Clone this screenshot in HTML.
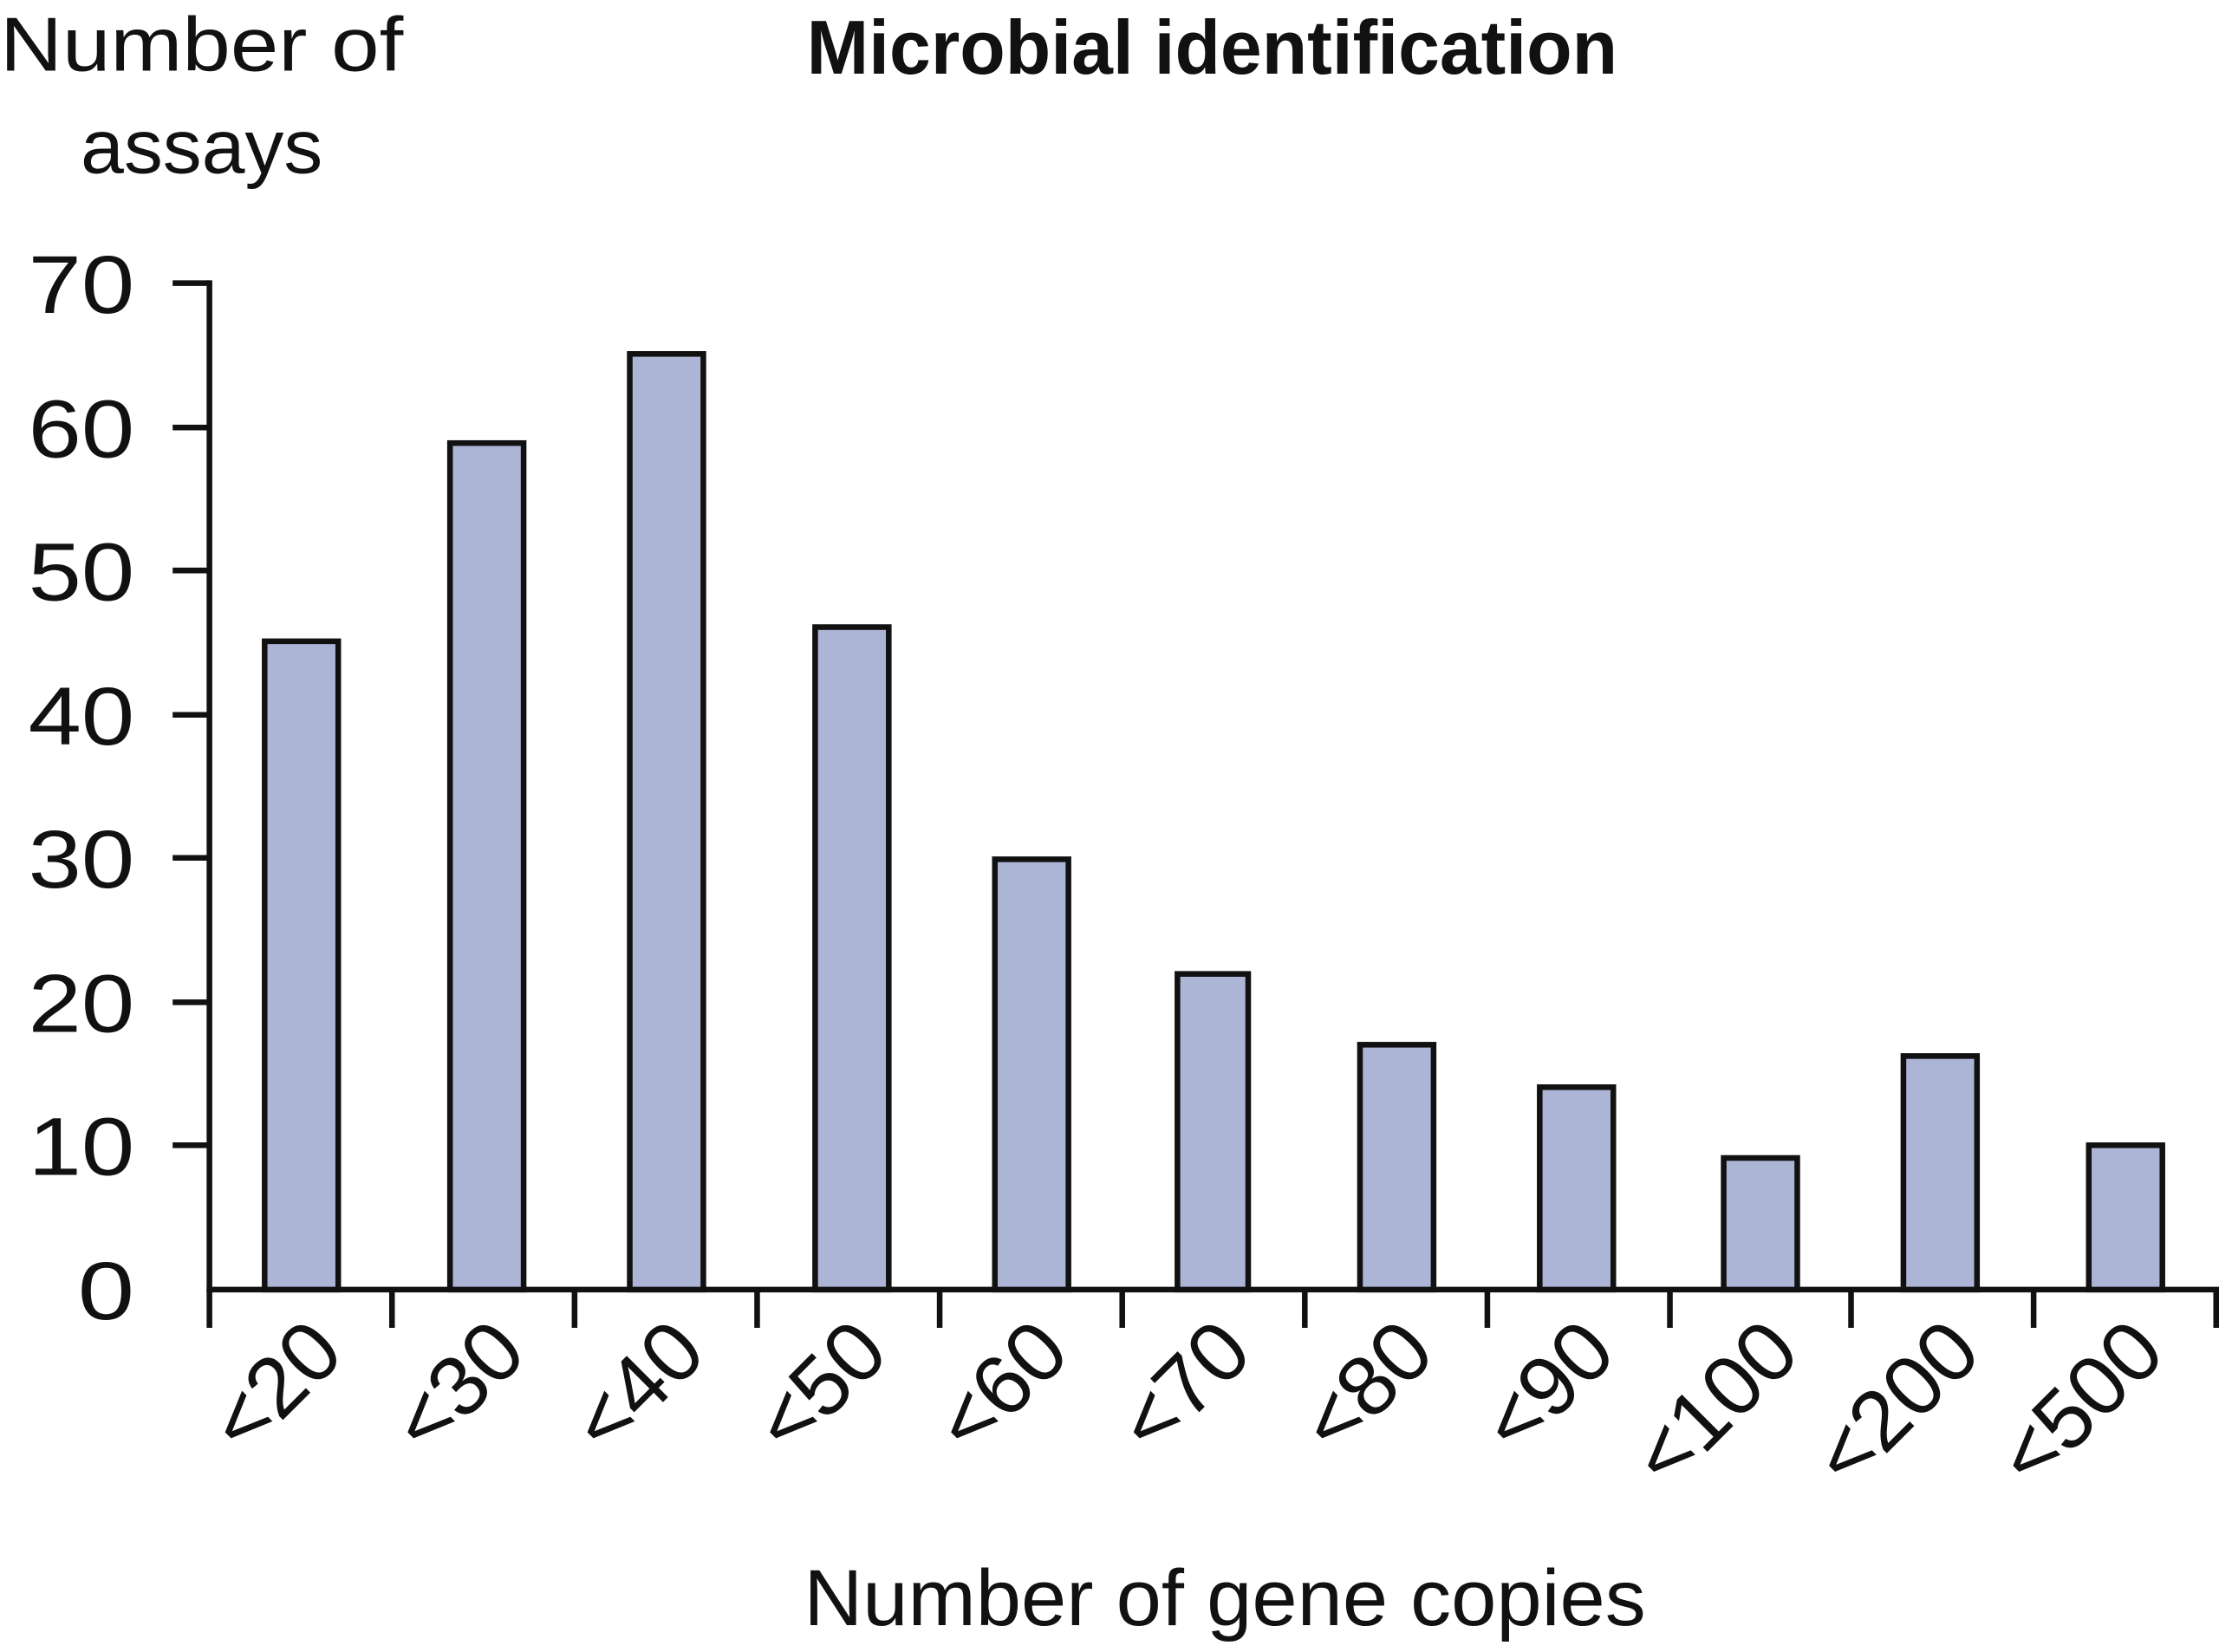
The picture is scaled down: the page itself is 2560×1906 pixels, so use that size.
<!DOCTYPE html>
<html><head><meta charset="utf-8"><style>
html,body{margin:0;padding:0;background:#fff;}
svg{display:block;}
text{font-family:"Liberation Sans",sans-serif;fill:#111;}
</style></head><body>
<svg width="2560" height="1906" viewBox="0 0 1568 1167" preserveAspectRatio="none" xmlns="http://www.w3.org/2000/svg">
<text x="0" y="50" font-size="54" textLength="285" lengthAdjust="spacingAndGlyphs">Number of</text>
<text x="57" y="122" font-size="54" textLength="171" lengthAdjust="spacingAndGlyphs">assays</text>
<text x="570" y="52" font-size="54" font-weight="bold" textLength="573" lengthAdjust="spacingAndGlyphs">Microbial identification</text>
<g stroke="#111" stroke-width="4" fill="none">
<line x1="148" y1="198" x2="148" y2="913"/>
<line x1="146" y1="911" x2="1568" y2="911"/>
<line x1="122" y1="200" x2="148" y2="200"/>
<line x1="122" y1="302" x2="148" y2="302"/>
<line x1="122" y1="403" x2="148" y2="403"/>
<line x1="122" y1="505" x2="148" y2="505"/>
<line x1="122" y1="606" x2="148" y2="606"/>
<line x1="122" y1="708" x2="148" y2="708"/>
<line x1="122" y1="809" x2="148" y2="809"/>
<line x1="148" y1="911" x2="148" y2="938"/>
<line x1="277" y1="911" x2="277" y2="938"/>
<line x1="406" y1="911" x2="406" y2="938"/>
<line x1="535" y1="911" x2="535" y2="938"/>
<line x1="664" y1="911" x2="664" y2="938"/>
<line x1="793" y1="911" x2="793" y2="938"/>
<line x1="922" y1="911" x2="922" y2="938"/>
<line x1="1051" y1="911" x2="1051" y2="938"/>
<line x1="1180" y1="911" x2="1180" y2="938"/>
<line x1="1308" y1="911" x2="1308" y2="938"/>
<line x1="1437" y1="911" x2="1437" y2="938"/>
<line x1="1566" y1="911" x2="1566" y2="938"/>
</g>
<g fill="#adb5d6" stroke="#111" stroke-width="4">
<rect x="187" y="453" width="52" height="458"/>
<rect x="318" y="313" width="52" height="598"/>
<rect x="445" y="250" width="52" height="661"/>
<rect x="576" y="443" width="52" height="468"/>
<rect x="703" y="607" width="52" height="304"/>
<rect x="832" y="688" width="50" height="223"/>
<rect x="961" y="738" width="52" height="173"/>
<rect x="1088" y="768" width="52" height="143"/>
<rect x="1218" y="818" width="52" height="93"/>
<rect x="1345" y="746" width="52" height="165"/>
<rect x="1476" y="809" width="52" height="102"/>
</g>
<g font-size="58">
<text x="20" y="221" textLength="75" lengthAdjust="spacingAndGlyphs">70</text>
<text x="20" y="323" textLength="75" lengthAdjust="spacingAndGlyphs">60</text>
<text x="20" y="424" textLength="75" lengthAdjust="spacingAndGlyphs">50</text>
<text x="20" y="526" textLength="75" lengthAdjust="spacingAndGlyphs">40</text>
<text x="20" y="627" textLength="75" lengthAdjust="spacingAndGlyphs">30</text>
<text x="20" y="729" textLength="75" lengthAdjust="spacingAndGlyphs">20</text>
<text x="20" y="830" textLength="75" lengthAdjust="spacingAndGlyphs">10</text>
<text x="55" y="932" textLength="40" lengthAdjust="spacingAndGlyphs">0</text>
</g>
<g font-size="60" text-anchor="end">
<text transform="translate(245,958) rotate(-45)">&lt;20</text>
<text transform="translate(374,958) rotate(-45)">&lt;30</text>
<text transform="translate(501,958) rotate(-45)">&lt;40</text>
<text transform="translate(630,958) rotate(-45)">&lt;50</text>
<text transform="translate(758,958) rotate(-45)">&lt;60</text>
<text transform="translate(887,958) rotate(-45)">&lt;70</text>
<text transform="translate(1016,958) rotate(-45)">&lt;80</text>
<text transform="translate(1144,958) rotate(-45)">&lt;90</text>
<text transform="translate(1274,958) rotate(-45)">&lt;100</text>
<text transform="translate(1402,958) rotate(-45)">&lt;200</text>
<text transform="translate(1532,958) rotate(-45)">&lt;500</text>
</g>
<text x="568" y="1148" font-size="56" textLength="595" lengthAdjust="spacingAndGlyphs">Number of gene copies</text>
</svg>
</body></html>
